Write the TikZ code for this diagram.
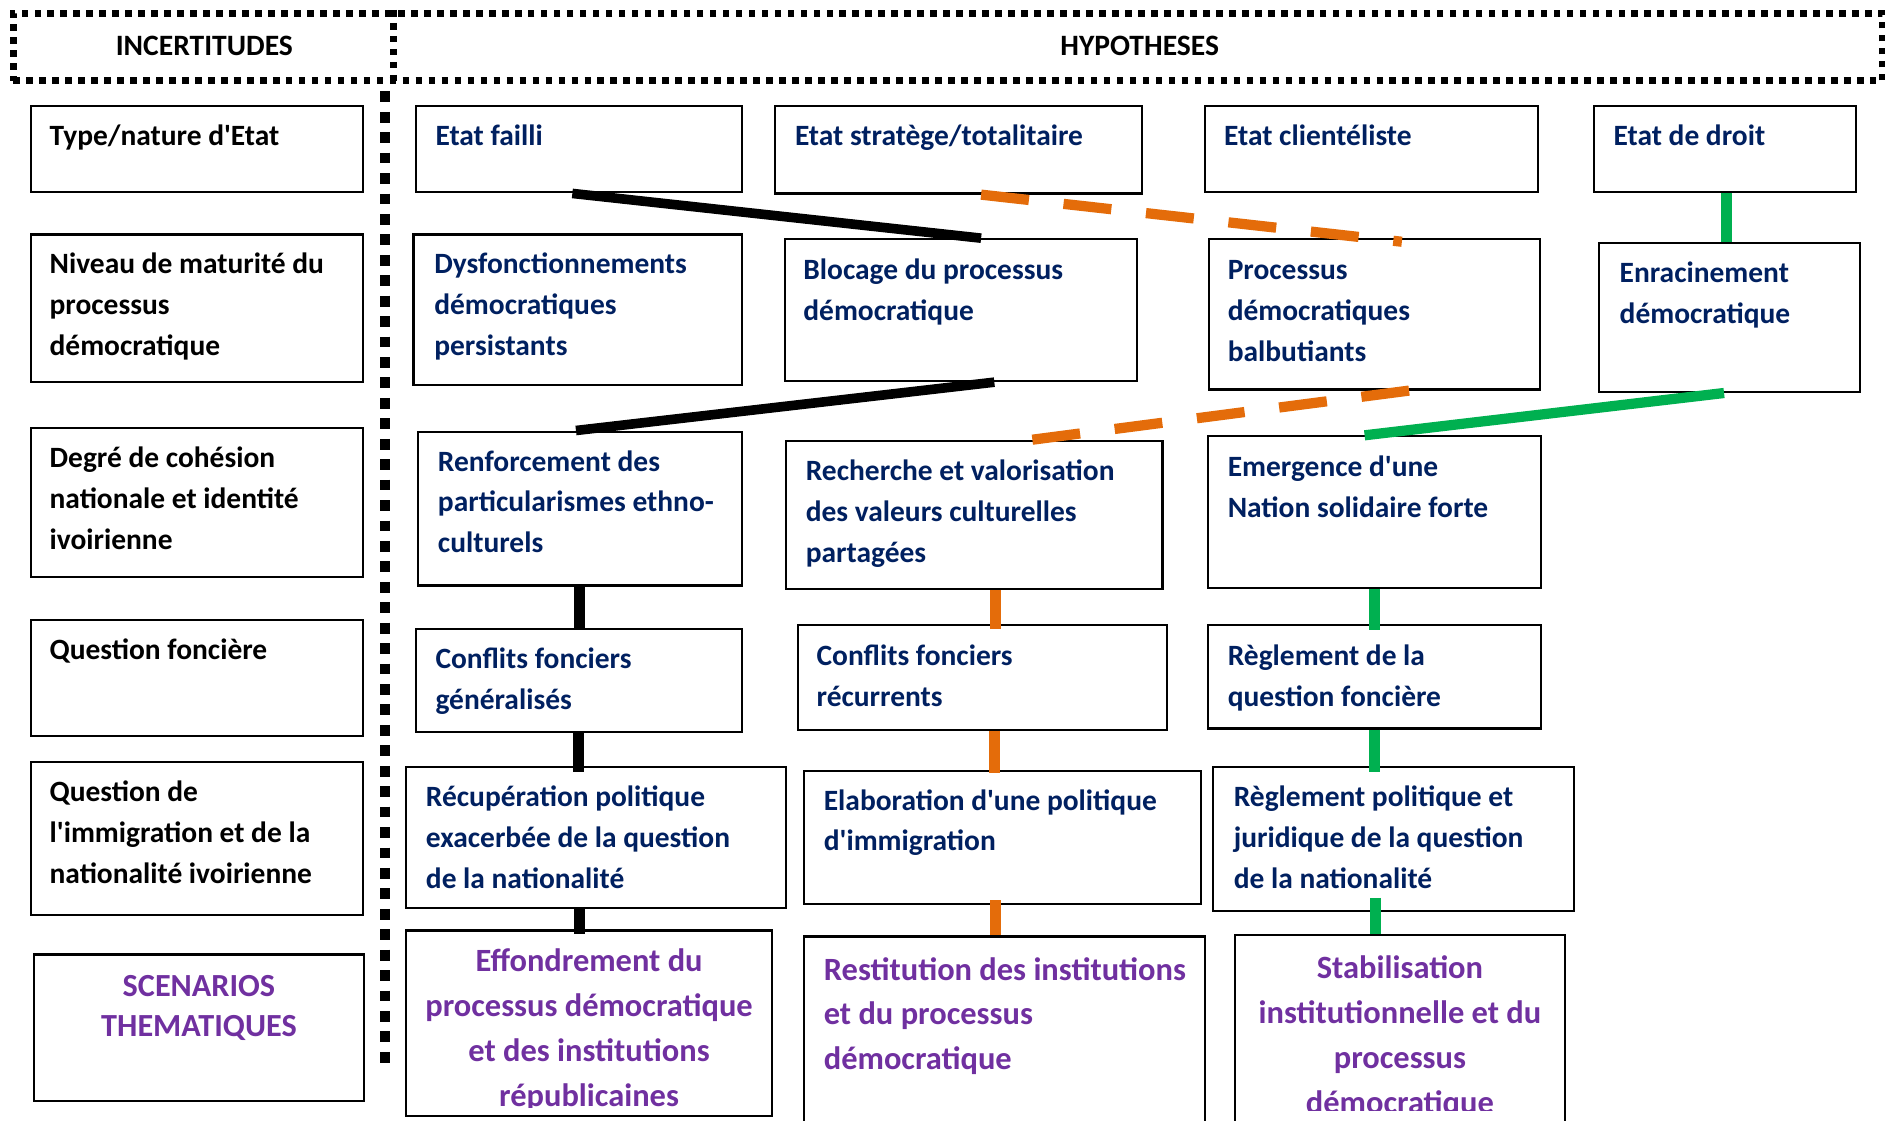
\documentclass[tikz,border=0pt]{standalone}
\usepackage{fontspec}
\setmainfont{Carlito}[Ligatures=TeXOff]
\usetikzlibrary{fit,calc}
\definecolor{hypblue}{HTML}{002060}
\definecolor{scenpurple}{HTML}{7030A0}
\definecolor{pathorange}{HTML}{E46C0A}
\definecolor{pathgreen}{HTML}{00B050}
\newcommand\bodystrut{\rule{0pt}{24pt}}
\newcommand\scenstrut{\rule{0pt}{28pt}}
% a framed cell given by its corners (x1,y1) (x2,y2), y grows downwards
\newcommand\gridcell[5]{\node[cellbox, fit={(#2,#3) (#4,#5)}] (#1) {};}
\tikzset{
  cellbox/.style={draw=black, line width=1.8pt, inner sep=0pt},
  dotframe/.style={draw=black, line width=5.5pt, dash pattern=on 5.5pt off 5.3pt},
  rowtext/.style={anchor=north west, inner sep=0pt, align=left, text=black,
    font=\bfseries\fontsize{24.5}{34}\selectfont},
  hyptext/.style={rowtext, text=hypblue},
  scentext/.style={anchor=north, inner sep=0pt, align=center, text=scenpurple,
    font=\bfseries\fontsize{27}{37.3}\selectfont},
  headtext/.style={inner sep=0pt, font=\bfseries\fontsize{24.6}{28}\selectfont},
  blackpath/.style={line width=8pt, black},
  orangepath/.style={line width=9pt, pathorange},
  orangedash/.style={orangepath, line width=8.5pt, dash pattern=on 40pt off 29pt},
  greenpath/.style={line width=9.5pt, pathgreen},
}
\begin{document}
\begin{tikzpicture}[x=1pt,y=-1pt]
\clip (0,0) rectangle (1568,932);
\fill[white] (0,0) rectangle (1568,932);

% ---- header band ----
\node[dotframe, fit={(11,11) (1566,67)}, inner sep=0pt] (head) {};
\draw[dotframe] ([xshift=319pt]head.north west) -- ([xshift=319pt]head.south west);
\node[headtext] (incert) at (170,38) {INCERTITUDES};
\node[headtext] (hypo) at (948,38) {HYPOTHESES};

% ---- separator between uncertainties and hypotheses ----
\coordinate (septop) at (320,76);
\coordinate (sepbot) at (320,884);
\draw[line width=8pt, dash pattern=on 9pt off 8pt] (septop) -- (sepbot);

% ---- uncertainty column ----
\gridcell{type}{26}{88}{302}{160}
\gridcell{niveau}{26}{195}{302}{318}
\gridcell{degre}{26}{356}{302}{480}
\gridcell{fonc}{26}{516}{302}{612}
\gridcell{immig}{26}{634}{302}{761}
\gridcell{scen}{28}{794}{303}{916}

\node[rowtext] (type-t) at ([shift={(16,9.5)}]type.north west) {\bodystrut Type/nature d'Etat};
\node[rowtext] (niveau-t) at ([shift={(16,9.5)}]niveau.north west) {\bodystrut Niveau de maturité du\\processus\\démocratique};
\node[rowtext] (degre-t) at ([shift={(16,9.5)}]degre.north west) {\bodystrut Degré de cohésion\\nationale et identité\\ivoirienne};
\node[rowtext] (fonc-t) at ([shift={(16,9.5)}]fonc.north west) {\bodystrut Question foncière};
\node[rowtext] (immig-t) at ([shift={(16,9.5)}]immig.north west) {\bodystrut Question de\\l'immigration et de la\\nationalité ivoirienne};
\node[scentext, font=\bfseries\fontsize{26.8}{33}\selectfont] (scen-t) at ([shift={(0,8)}]scen.north) {\scenstrut SCENARIOS\\THEMATIQUES};

% ---- hypotheses, column 1 ----
\gridcell{failli}{346}{88}{617}{160}
\gridcell{dysf}{344}{195}{617}{320}
\gridcell{renfo}{348}{359}{617}{487}
\gridcell{congen}{346}{523}{617}{609}
\gridcell{recup}{338}{638}{654}{755}
\gridcell{effon}{338}{774}{642}{928}

\node[hyptext] (failli-t) at ([shift={(17,9.5)}]failli.north west) {\bodystrut Etat failli};
\node[hyptext] (dysf-t) at ([shift={(18,9.5)}]dysf.north west) {\bodystrut Dysfonctionnements\\démocratiques\\persistants};
\node[hyptext] (renfo-t) at ([shift={(17,9.5)}]renfo.north west) {\bodystrut Renforcement des\\particularismes ethno-\\culturels};
\node[hyptext] (congen-t) at ([shift={(17,10)}]congen.north west) {\bodystrut Conflits fonciers\\généralisés};
\node[hyptext] (recup-t) at ([shift={(17,9.5)}]recup.north west) {\bodystrut Récupération politique\\exacerbée de la question\\de la nationalité};
\begin{scope}
  \clip (338,774) rectangle (642,921);
  \node[scentext] (effon-t) at ([shift={(0,7)}]effon.north) {\scenstrut Effondrement du\\processus démocratique\\et des institutions\\républicaines};
\end{scope}

% ---- hypotheses, column 2 ----
\gridcell{strat}{645}{88}{950}{161}
\gridcell{bloc}{653}{199}{946}{317}
\gridcell{rech}{654}{367}{967}{490}
\gridcell{conrec}{664}{520}{971}{607}
\gridcell{elab}{669}{641}{999}{752}
\gridcell{restit}{669}{779}{1002}{960}

\node[hyptext] (strat-t) at ([shift={(17,9.5)}]strat.north west) {\bodystrut Etat stratège/totalitaire};
\node[hyptext] (bloc-t) at ([shift={(16,10)}]bloc.north west) {\bodystrut Blocage du processus\\démocratique};
\node[hyptext] (rech-t) at ([shift={(17,9.5)}]rech.north west) {\bodystrut Recherche et valorisation\\des valeurs culturelles\\partagées};
\node[hyptext] (conrec-t) at ([shift={(16,10)}]conrec.north west) {\bodystrut Conflits fonciers\\récurrents};
\node[hyptext] (elab-t) at ([shift={(17,9.5)}]elab.north west) {\bodystrut Elaboration d'une politique\\d'immigration};
\node[scentext, anchor=north west, align=left] (restit-t) at ([shift={(17,9)}]restit.north west) {\scenstrut Restitution des institutions\\et du processus\\démocratique};

% ---- hypotheses, column 3 ----
\gridcell{client}{1002}{88}{1279}{160}
\gridcell{proc}{1006}{199}{1281}{324}
\gridcell{emerg}{1005}{363}{1282}{489}
\gridcell{regf}{1005}{520}{1282}{606}
\gridcell{regp}{1009}{638}{1309}{758}
\gridcell{stab}{1027}{778}{1302}{960}

\node[hyptext] (client-t) at ([shift={(17,9.5)}]client.north west) {\bodystrut Etat clientéliste};
\node[hyptext] (proc-t) at ([shift={(16,10)}]proc.north west) {\bodystrut Processus\\démocratiques\\balbutiants};
\node[hyptext] (emerg-t) at ([shift={(17,10)}]emerg.north west) {\bodystrut Emergence d'une\\Nation solidaire forte};
\node[hyptext] (regf-t) at ([shift={(17,10)}]regf.north west) {\bodystrut Règlement de la\\question foncière};
\node[hyptext] (regp-t) at ([shift={(18,9.5)}]regp.north west) {\bodystrut Règlement politique et\\juridique de la question\\de la nationalité};
\begin{scope}
  \clip (1027,778) rectangle (1302,924);
  \node[scentext] (stab-t) at ([shift={(0,9)}]stab.north) {\scenstrut Stabilisation\\institutionnelle et du\\processus\\démocratique};
\end{scope}

% ---- hypotheses, column 4 ----
\gridcell{droit}{1326}{88}{1544}{160}
\gridcell{enrac}{1330}{202}{1547}{326}

\node[hyptext] (droit-t) at ([shift={(17,9.5)}]droit.north west) {\bodystrut Etat de droit};
\node[hyptext] (enrac-t) at ([shift={(18,10)}]enrac.north west) {\bodystrut Enracinement\\démocratique};

% ---- scenario paths ----
% collapse (black)
\draw[blackpath] ([xshift=131pt]failli.south west) -- ([xshift=164pt]bloc.north west);
\draw[blackpath] ([xshift=175pt]bloc.south west) -- ([xshift=132pt]renfo.north west);
\coordinate (b1) at ([xshift=135pt]renfo.south west);
\draw[blackpath, line width=9pt] (b1) -- (b1 |- congen.north);
\coordinate (b2) at ([xshift=136pt]congen.south west);
\draw[blackpath, line width=9pt] (b2) -- ([yshift=-5pt]b2 |- recup.north);
\coordinate (b3) at ([xshift=145pt]recup.south west);
\draw[blackpath, line width=9pt] (b3) -- ([yshift=-4pt]b3 |- effon.north);

% restitution (orange)
\draw[orangedash] ([xshift=172pt]strat.south west) -- ([shift={(161,3)}]proc.north west);
\draw[orangedash] ([xshift=167pt]proc.south west) -- ([xshift=203pt]rech.north west);
\coordinate (o1) at ([xshift=175pt]rech.south west);
\draw[orangepath] (o1) -- ([yshift=-4pt]o1 |- conrec.north);
\coordinate (o2) at ([xshift=164pt]conrec.south west);
\draw[orangepath] (o2) -- ([yshift=-3pt]o2 |- elab.north);
\coordinate (o3) at ([shift={(160,-4)}]elab.south west);
\draw[orangepath] (o3) -- (o3 |- restit.north);

% stabilisation (green)
\coordinate (g0) at ([xshift=111pt]droit.south west);
\draw[greenpath] (g0) -- (g0 |- enrac.north);
\draw[greenpath, line width=8.5pt] ([xshift=105pt]enrac.south west) -- ([xshift=131pt]emerg.north west);
\coordinate (g1) at ([xshift=139pt]emerg.south west);
\draw[greenpath] (g1) -- ([yshift=-5pt]g1 |- regf.north);
\coordinate (g2) at ([xshift=139pt]regf.south west);
\draw[greenpath] (g2) -- ([yshift=-5pt]g2 |- regp.north);
\coordinate (g3) at ([shift={(136,-12)}]regp.south west);
\draw[greenpath] (g3) -- (g3 |- stab.north);
\end{tikzpicture}
\end{document}
